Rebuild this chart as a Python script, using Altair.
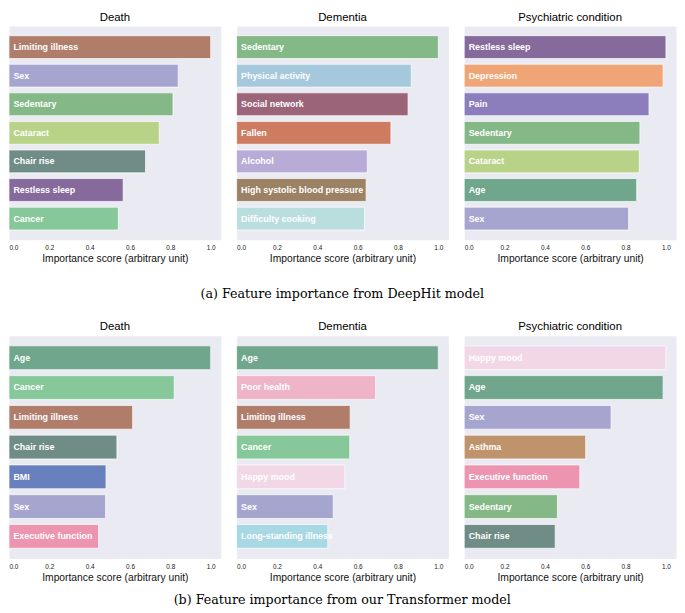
import altair as alt
import pandas as pd

# ---------------- data ----------------
a_death_features = ["Limiting illness", "Sex", "Sedentary", "Cataract", "Chair rise", "Restless sleep", "Cancer"]
a_death_values = [1.0, 0.839, 0.813, 0.745, 0.677, 0.566, 0.542]

a_dementia_features = ["Sedentary", "Physical activity", "Social network", "Fallen", "Alcohol",
                       "High systolic blood pressure", "Difficulty cooking"]
a_dementia_values = [1.0, 0.866, 0.850, 0.765, 0.648, 0.642, 0.634]

a_psych_features = ["Restless sleep", "Depression", "Pain", "Sedentary", "Cataract", "Age", "Sex"]
a_psych_values = [1.0, 0.986, 0.916, 0.871, 0.868, 0.855, 0.815]

b_death_features = ["Age", "Cancer", "Limiting illness", "Chair rise", "BMI", "Sex", "Executive function"]
b_death_values = [1.0, 0.819, 0.613, 0.535, 0.481, 0.479, 0.444]

b_dementia_features = ["Age", "Poor health", "Limiting illness", "Cancer", "Happy mood", "Sex",
                       "Long-standing illness"]
b_dementia_values = [1.0, 0.689, 0.563, 0.561, 0.537, 0.479, 0.452]

b_psych_features = ["Happy mood", "Age", "Sex", "Asthma", "Executive function", "Sedentary", "Chair rise"]
b_psych_values = [1.0, 0.986, 0.728, 0.602, 0.573, 0.462, 0.451]

panel_titles = ["Death", "Dementia", "Psychiatric condition"]
captions = ["(a) Feature importance from DeepHit model",
            "(b) Feature importance from our Transformer model"]
tick_values = [0.0, 0.2, 0.4, 0.6, 0.8, 1.0]

feature_names = ["Limiting illness", "Sex", "Sedentary", "Cataract", "Chair rise", "Restless sleep",
                 "Cancer", "Physical activity", "Social network", "Fallen", "Alcohol",
                 "High systolic blood pressure", "Difficulty cooking", "Depression", "Pain", "Age",
                 "BMI", "Executive function", "Poor health", "Happy mood", "Long-standing illness",
                 "Asthma"]
feature_colors = ["#B07D6B", "#A6A5D0", "#84B886", "#B8D388", "#6F8D86", "#866A9C",
                  "#86C89A", "#A6C8DC", "#9C6479", "#CD7C62", "#B8ABD6",
                  "#9C8264", "#BADEDE", "#F0A576", "#8C7EBC", "#6FA68C",
                  "#6880BE", "#EC94B0", "#F0B4C8", "#F2D8E6", "#A8D8E4",
                  "#BF946C"]

PANEL_W = 214


def panel(title, feats, vals, height):
    df = pd.DataFrame({"feature": feats, "score": vals})
    y = alt.Y("feature:N", sort=None, axis=None,
              scale=alt.Scale(paddingInner=0.2, paddingOuter=0.34))
    x = alt.X("score:Q",
              scale=alt.Scale(domain=[0, 1.05], nice=False, zero=True),
              axis=alt.Axis(values=tick_values, format=".1f",
                            title="Importance score (arbitrary unit)",
                            ticks=False, domain=False, grid=False,
                            labelFontSize=6.5, labelPadding=5,
                            titleFontSize=10.4, titleFontWeight="normal",
                            titlePadding=3, labelColor="#222222", titleColor="#111111"))
    bars = alt.Chart(df).mark_bar(stroke="white", strokeWidth=1, strokeOpacity=0.7).encode(
        x=x, y=y,
        color=alt.Color("feature:N", scale=alt.Scale(domain=feature_names, range=feature_colors),
                        legend=None),
    )
    labels = alt.Chart(df).mark_text(align="left", baseline="middle", dx=4.5, color="white",
                                     fontWeight="bold", fontSize=9).encode(
        x=alt.value(0), y=y, text="feature:N"
    )
    return alt.layer(bars, labels).properties(
        width=PANEL_W, height=height,
        title=alt.TitleParams(title, fontSize=11.5, fontWeight="normal", offset=3, color="black"),
    )


def row(caption, data, height, cap_offset):
    panels = [panel(t, f, v, height) for t, (f, v) in zip(panel_titles, data)]
    return alt.hconcat(*panels, spacing=14,
                       title=alt.TitleParams(caption, orient="bottom", anchor="middle",
                                             font="DejaVu Serif", fontSize=12.8,
                                             fontWeight="normal", offset=cap_offset,
                                             color="black"))


row_a = row(captions[0], [(a_death_features, a_death_values),
                          (a_dementia_features, a_dementia_values),
                          (a_psych_features, a_psych_values)], 216, 23.5)
row_b = row(captions[1], [(b_death_features, b_death_values),
                          (b_dementia_features, b_dementia_values),
                          (b_psych_features, b_psych_values)], 225, 11)

chart = alt.vconcat(row_a, row_b, spacing=20).configure(
    font="Liberation Sans", padding=0
).configure_view(fill="#EAEAF2", stroke="transparent")

chart.save("out.html", embed_options={"renderer": "svg", "actions": False})
